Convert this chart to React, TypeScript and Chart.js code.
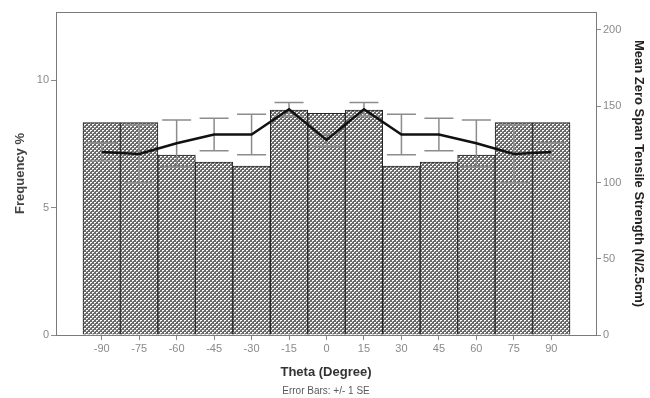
import React, { useEffect, useRef } from "react";
import { Chart, registerables } from "chart.js";

Chart.register(...registerables);

const thetas = [-90, -75, -60, -45, -30, -15, 0, 15, 30, 45, 60, 75, 90];
const frequency = [8.33, 8.33, 7.06, 6.78, 6.63, 8.82, 8.7, 8.82, 6.63, 6.78, 7.06, 8.33, 8.33];
const meanStrength = [120, 118.7, 125.7, 131.5, 131.5, 148, 127.9, 148, 131.5, 131.5, 125.7, 118.7, 120];
const strengthSE = [6, 19, 15.3, 10.7, 13.3, 4.4, 4, 4.4, 13.3, 10.7, 15.3, 19, 6];
const leftTicks = [0, 5, 10];
const rightTicks = [0, 50, 100, 150, 200];

const FONT = "'Liberation Sans', Arial, sans-serif";

function makePattern(): CanvasPattern | string {
  const c = document.createElement("canvas");
  c.width = 4;
  c.height = 4;
  const g = c.getContext("2d");
  if (!g) return "#999";
  g.fillStyle = "#6a6a6a";
  g.fillRect(0, 0, 4, 4);
  g.fillStyle = "#ffffff";
  g.fillRect(0, 0, 2, 1);
  g.fillRect(2, 2, 2, 1);
  g.fillStyle = "#c8c8c8";
  g.fillRect(0, 1, 1, 1);
  g.fillRect(2, 3, 1, 1);
  const ctx2 = document.createElement("canvas").getContext("2d");
  const p = ctx2 ? ctx2.createPattern(c, "repeat") : null;
  return p || "#999";
}

export default function App() {
  const ref = useRef<HTMLCanvasElement | null>(null);

  useEffect(() => {
    document.body.style.margin = "0";
    const canvas = ref.current;
    if (!canvas) return;

    const framePlugin = {
      id: "frame",
      beforeDatasetsDraw(chart: any) {
        const { ctx, chartArea } = chart;
        ctx.save();
        ctx.strokeStyle = "#7a7a7a";
        ctx.lineWidth = 1;
        ctx.strokeRect(
          Math.round(chartArea.left) + 0.5,
          Math.round(chartArea.top) + 0.5,
          Math.round(chartArea.right - chartArea.left),
          Math.round(chartArea.bottom - chartArea.top)
        );
        ctx.restore();
      },
    };

    const errorBarPlugin = {
      id: "errorBars",
      beforeDatasetDraw(chart: any, args: any) {
        if (args.index !== 1) return;
        const { ctx } = chart;
        const xs = chart.scales.x;
        const ys = chart.scales.y1;
        ctx.save();
        ctx.strokeStyle = "#8c8c8c";
        ctx.lineWidth = 1.5;
        const half = 14.5;
        thetas.forEach((t, i) => {
          const x = xs.getPixelForValue(t);
          const yTop = ys.getPixelForValue(meanStrength[i] + strengthSE[i]);
          const yBot = ys.getPixelForValue(meanStrength[i] - strengthSE[i]);
          ctx.beginPath();
          ctx.moveTo(x, yTop);
          ctx.lineTo(x, yBot);
          ctx.moveTo(x - half, yTop);
          ctx.lineTo(x + half, yTop);
          ctx.moveTo(x - half, yBot);
          ctx.lineTo(x + half, yBot);
          ctx.stroke();
        });
        ctx.restore();
      },
    };

    const captionPlugin = {
      id: "caption",
      afterDraw(chart: any) {
        const { ctx, chartArea } = chart;
        ctx.save();
        ctx.fillStyle = "#5a5a5a";
        ctx.font = `10px ${FONT}`;
        ctx.textAlign = "center";
        ctx.textBaseline = "middle";
        ctx.fillText("Error Bars: +/- 1 SE", (chartArea.left + chartArea.right) / 2, 391);
        ctx.restore();
      },
    };

    const tickFont = { family: FONT, size: 11 };
    const titleFont = { family: FONT, size: 13, weight: "bold" as const };

    const chart = new Chart(canvas, {
      type: "bar",
      data: {
        datasets: [
          {
            type: "bar",
            label: "Frequency %",
            data: thetas.map((t, i) => ({ x: t, y: frequency[i] })),
            backgroundColor: makePattern() as any,
            borderColor: "#222222",
            borderWidth: 1,
            barPercentage: 1,
            categoryPercentage: 1,
            yAxisID: "y",
            order: 1,
          } as any,
          {
            type: "line",
            label: "Mean Zero Span Tensile Strength",
            data: thetas.map((t, i) => ({ x: t, y: meanStrength[i] })),
            borderColor: "#111111",
            borderWidth: 2.5,
            pointRadius: 0,
            tension: 0,
            yAxisID: "y1",
            order: 0,
          } as any,
        ],
      },
      options: {
        animation: false,
        responsive: false,
        devicePixelRatio: 1,
        layout: { padding: { top: 12, left: 0, right: 0, bottom: 0 } },
        plugins: {
          legend: { display: false },
          tooltip: { enabled: false },
        },
        scales: {
          x: {
            type: "linear",
            offset: false,
            min: -108.3,
            max: 107.9,
            afterBuildTicks: (s: any) => {
              s.ticks = thetas.map((v) => ({ value: v }));
            },
            afterFit: (s: any) => {
              s.height = 63;
            },
            ticks: {
              autoSkip: false,
              maxRotation: 0,
              font: tickFont,
              color: "#8a8a8a",
              padding: 2,
              callback: (v: any) => String(v),
            },
            grid: { offset: false, drawOnChartArea: false, tickLength: 5, color: "#8a8a8a" },
            border: { display: false },
            title: {
              display: true,
              text: "Theta (Degree)",
              font: titleFont,
              color: "#333333",
              padding: { top: 0, bottom: 18 },
            },
          },
          y: {
            type: "linear",
            position: "left",
            min: 0,
            max: 12.67,
            afterBuildTicks: (s: any) => {
              s.ticks = leftTicks.map((v) => ({ value: v }));
            },
            afterFit: (s: any) => {
              s.width = 56;
            },
            ticks: { font: tickFont, color: "#8a8a8a", padding: 2 },
            grid: { drawOnChartArea: false, tickLength: 5, color: "#8a8a8a" },
            border: { display: false },
            title: {
              display: true,
              text: "Frequency %",
              font: titleFont,
              color: "#444444",
              padding: { top: 13, bottom: 0 },
            },
          },
          y1: {
            type: "linear",
            position: "right",
            min: 0,
            max: 211.8,
            afterBuildTicks: (s: any) => {
              s.ticks = rightTicks.map((v) => ({ value: v }));
            },
            afterFit: (s: any) => {
              s.width = 54;
            },
            ticks: { font: tickFont, color: "#8a8a8a", padding: 2 },
            grid: { drawOnChartArea: false, tickLength: 5, color: "#8a8a8a" },
            border: { display: false },
            title: {
              display: true,
              text: "Mean Zero Span Tensile Strength (N/2.5cm)",
              font: titleFont,
              color: "#222222",
              padding: { top: 4, bottom: 0 },
            },
          },
        },
      } as any,
      plugins: [framePlugin, errorBarPlugin, captionPlugin],
    });

    return () => chart.destroy();
  }, []);

  return (
    <div style={{ position: "absolute", left: 0, top: 0, width: 650, height: 398 }}>
      <canvas ref={ref} width={650} height={398} style={{ width: 650, height: 398, display: "block" }} />
    </div>
  );
}
